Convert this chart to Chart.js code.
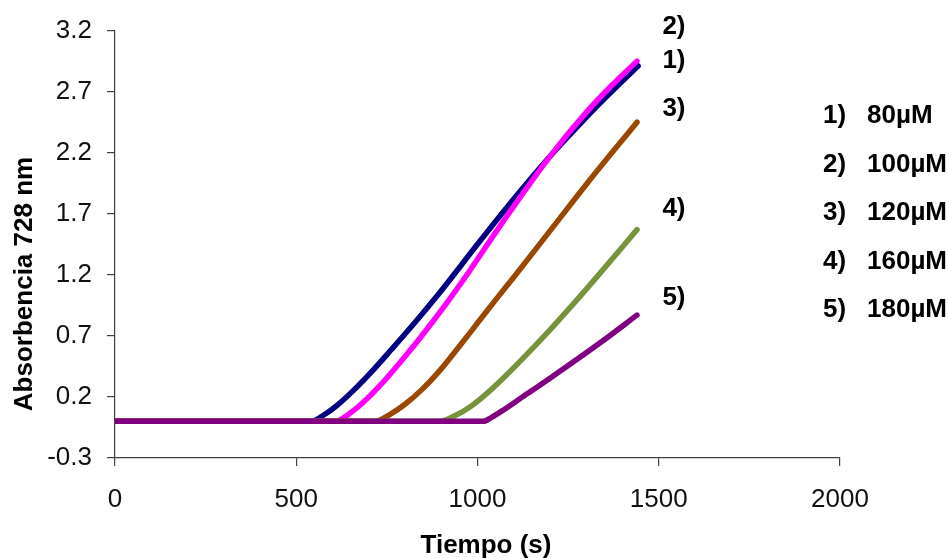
<!DOCTYPE html>
<html>
<head>
<meta charset="utf-8">
<script src="https://cdn.jsdelivr.net/npm/chart.js@4/dist/chart.umd.min.js"></script>
<style>
  html, body { margin: 0; padding: 0; background: #ffffff; }
  #wrap { width: 949px; height: 558px; }
</style>
</head>
<body>
<div id="wrap"><canvas id="chart" width="949" height="558"></canvas></div>
<script>
// Absorbance at 728 nm versus time for five concentrations
const seriesNames = ["1)", "2)", "3)", "4)", "5)"];
const legendLabels = ["80\u00b5M", "100\u00b5M", "120\u00b5M", "160\u00b5M", "180\u00b5M"];

const time80  = [0, 540, 580, 620, 660, 712, 760, 800, 850, 900, 1000, 1100, 1200, 1300, 1370, 1443];
const abs80   = [0, 0, 0.06, 0.15, 0.26, 0.42, 0.58, 0.715, 0.89, 1.07, 1.45, 1.82, 2.17, 2.49, 2.70, 2.91];

const time100 = [0, 607, 650, 690, 730, 780, 830, 880, 930, 980, 1030, 1100, 1200, 1300, 1370, 1440];
const abs100  = [0, 0, 0.07, 0.17, 0.29, 0.46, 0.64, 0.83, 1.03, 1.24, 1.46, 1.76, 2.17, 2.53, 2.75, 2.95];

const time120 = [0, 717, 760, 800, 850, 900, 950, 1000, 1050, 1100, 1200, 1300, 1440];
const abs120  = [0, 0, 0.06, 0.14, 0.27, 0.43, 0.615, 0.805, 0.995, 1.18, 1.56, 1.94, 2.45];

const time160 = [0, 897, 940, 980, 1030, 1080, 1130, 1200, 1270, 1340, 1440];
const abs160  = [0, 0, 0.05, 0.12, 0.24, 0.38, 0.53, 0.75, 0.98, 1.22, 1.57];

const time180 = [0, 1015, 1040, 1070, 1117, 1208, 1346, 1440];
const abs180  = [0, 0, 0.035, 0.09, 0.185, 0.37, 0.66, 0.87];

const yTickValues = [-0.3, 0.2, 0.7, 1.2, 1.7, 2.2, 2.7, 3.2];
const xTickValues = [0, 500, 1000, 1500, 2000];

const colors = ["#000080", "#FF00FF", "#9A4800", "#77933C", "#800080"];

function toPoints(ts, vs) {
  return ts.map((t, i) => ({ x: t, y: vs[i] }));
}

const seriesData = [
  toPoints(time80, abs80),
  toPoints(time100, abs100),
  toPoints(time120, abs120),
  toPoints(time160, abs160),
  toPoints(time180, abs180)
];

// Chart.js paints dataset 0 last, so list them from top-most (180 µM) down.
const drawOrder = [4, 3, 2, 1, 0];
const datasets = drawOrder.map(i => ({
  label: legendLabels[i],
  data: seriesData[i],
  borderColor: colors[i],
  backgroundColor: colors[i],
  borderWidth: 5.5,
  borderCapStyle: 'round',
  borderJoinStyle: 'round',
  pointRadius: 0,
  pointHoverRadius: 0,
  fill: false,
  cubicInterpolationMode: 'monotone'
}));

// Where the series tags sit, in data units
const tagX = 1510;
const tagY = [2.954, 3.23, 2.562, 1.744, 1.008];

const FONT = "'Liberation Sans', Arial, Helvetica, sans-serif";

const annotations = {
  id: 'annotations',
  afterDraw(chart) {
    const ctx = chart.ctx;
    const xs = chart.scales.x, ys = chart.scales.y;
    ctx.save();
    ctx.fillStyle = '#000000';
    ctx.font = "bold 26px " + FONT;
    ctx.textBaseline = 'middle';
    ctx.textAlign = 'left';
    // series tags next to the line ends
    seriesNames.forEach((name, i) => {
      ctx.fillText(name, xs.getPixelForValue(tagX), ys.getPixelForValue(tagY[i]));
    });
    // key on the right
    legendLabels.forEach((lab, i) => {
      const y = 116 + 48.5 * i;
      ctx.fillText(seriesNames[i], 823, y);
      ctx.fillText(lab, 867, y);
    });
    // axis titles
    ctx.textAlign = 'center';
    ctx.fillText('Tiempo (s)', 486, 546);
    ctx.translate(25, 284);
    ctx.rotate(-Math.PI / 2);
    ctx.fillText('Absorbencia 728 nm', 0, 0);
    ctx.restore();
  }
};

new Chart(document.getElementById('chart'), {
  type: 'line',
  data: { datasets },
  options: {
    responsive: false,
    animation: false,
    devicePixelRatio: 1,
    layout: { padding: { top: 30, right: 109, bottom: 0, left: 0 } },
    plugins: { legend: { display: false }, tooltip: { enabled: false } },
    scales: {
      x: {
        type: 'linear',
        min: 0,
        max: 2000,
        afterBuildTicks(scale) { scale.ticks = xTickValues.map(v => ({ value: v })); },
        afterFit(scale) { scale.height = 100; },
        border: { display: true, color: '#404040', width: 1.2 },
        grid: { display: true, drawOnChartArea: false, drawTicks: true, tickLength: 8, color: '#404040', lineWidth: 1.2 },
        ticks: { color: '#111111', font: { family: FONT, size: 26 }, padding: 18, maxRotation: 0, callback: v => String(v) }
      },
      y: {
        type: 'linear',
        min: -0.3,
        max: 3.2,
        afterBuildTicks(scale) { scale.ticks = yTickValues.map(v => ({ value: v })); },
        afterFit(scale) { scale.width = 115; },
        border: { display: true, color: '#404040', width: 1.2 },
        grid: { display: true, drawOnChartArea: false, drawTicks: true, tickLength: 8, color: '#404040', lineWidth: 1.2 },
        ticks: { color: '#111111', font: { family: FONT, size: 26 }, padding: 15, callback: v => Number(v).toFixed(1) }
      }
    }
  },
  plugins: [annotations]
});
</script>
</body>
</html>
